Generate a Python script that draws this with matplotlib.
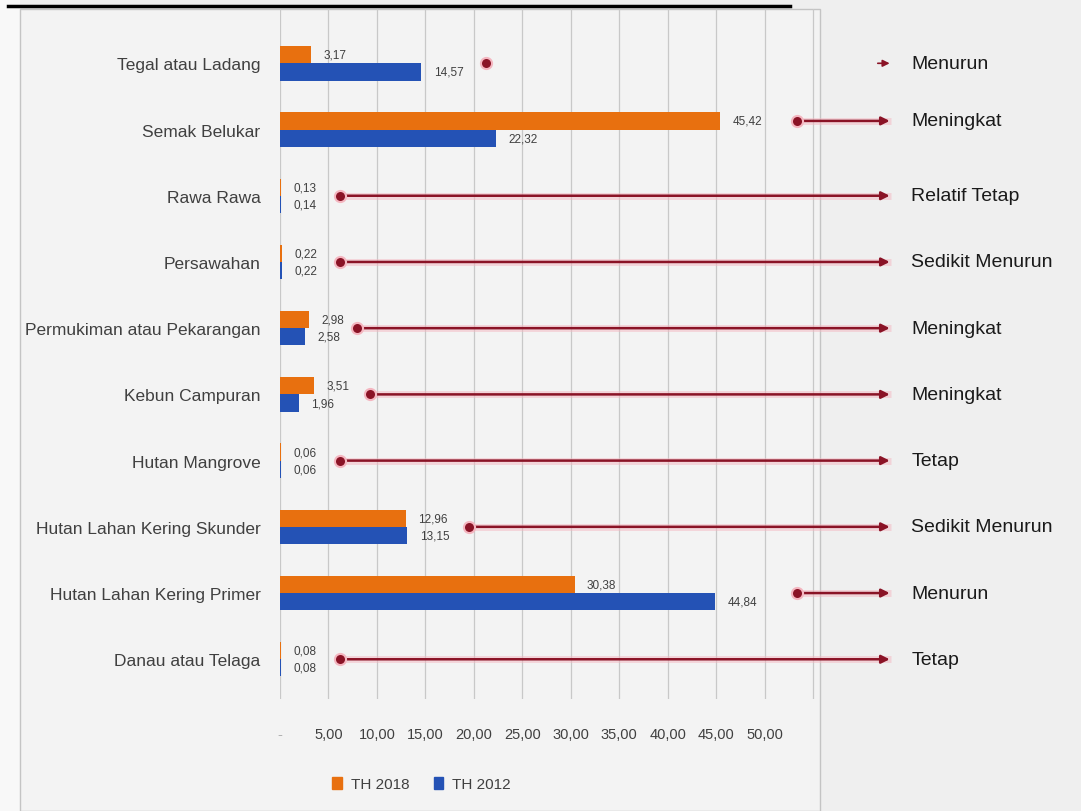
import matplotlib.pyplot as plt
import numpy as np
from matplotlib.patches import Patch, Rectangle
from matplotlib.lines import Line2D

plt.rcParams['font.family'] = ['Liberation Sans', 'DejaVu Sans']

categories = ["Tegal atau Ladang", "Semak Belukar", "Rawa Rawa", "Persawahan",
              "Permukiman atau Pekarangan", "Kebun Campuran", "Hutan Mangrove",
              "Hutan Lahan Kering Skunder", "Hutan Lahan Kering Primer",
              "Danau atau Telaga"]
th2018 = [3.17, 45.42, 0.13, 0.22, 2.98, 3.51, 0.06, 12.96, 30.38, 0.08]
th2012 = [14.57, 22.32, 0.14, 0.22, 2.58, 1.96, 0.06, 13.15, 44.84, 0.08]
trend = ["Menurun", "Meningkat", "Relatif Tetap", "Sedikit Menurun", "Meningkat",
         "Meningkat", "Tetap", "Sedikit Menurun", "Menurun", "Tetap"]
# where the red dot of each trend arrow sits (x value on the chart)
dot_x = [21.3, 53.3, 6.2, 6.2, 7.9, 9.3, 6.2, 19.5, 53.3, 6.2]
xticks = [0, 5, 10, 15, 20, 25, 30, 35, 40, 45, 50]
xticklabels = ["-", "5,00", "10,00", "15,00", "20,00", "25,00", "30,00",
               "35,00", "40,00", "45,00", "50,00"]

orange = '#e8700f'
blue = '#2452b5'
dark_red = '#8a1326'
txt = '#404040'

fig = plt.figure(figsize=(10.81, 8.12), dpi=100, facecolor='#efefef')

# chart panel background
fig.patches.append(Rectangle((0, 0), 20/1081, 1, transform=fig.transFigure,
                             facecolor='#f8f8f8', edgecolor='none', zorder=-3))
fig.patches.append(Rectangle((20/1081, 0), 800/1081, 1 - 10/812, transform=fig.transFigure,
                             facecolor='#f3f3f3', edgecolor='#c4c4c4', lw=1, zorder=-2))
fig.lines.append(Line2D([8/1081, 790/1081], [1 - 7/812, 1 - 7/812], transform=fig.transFigure,
                        color='black', lw=2.5))

ax = fig.add_axes([280/1081, 1 - 700/812, 540/1081, 690/812])
ax.set_facecolor('none')

y = np.arange(len(categories))
h = 0.26
b1 = ax.barh(y - h/2, th2018, height=h, color=orange, label='TH 2018', zorder=2)
b2 = ax.barh(y + h/2, th2012, height=h, color=blue, label='TH 2012', zorder=2)

fmt = lambda v: f"{v:.2f}".replace('.', ',')
ax.bar_label(b1, labels=[fmt(v) for v in th2018], padding=9, fontsize=8.5, color=txt)
ax.bar_label(b2, labels=[fmt(v) for v in th2012], padding=9, fontsize=8.5, color=txt)

ax.set_xlim(0, 55.7)
ax.set_ylim(len(categories) - 0.4, -0.82)
ax.set_yticks(y)
ax.set_yticklabels(categories, fontsize=12.5, color=txt)
ax.set_xticks(xticks)
ax.set_xticklabels(xticklabels, fontsize=10.5, color=txt)
ax.tick_params(axis='x', which='both', length=0, pad=20)
ax.tick_params(axis='y', length=0, pad=14)
ax.get_xticklabels()[0].set_color('#b0b0b0')
ax.grid(axis='x', color='#c8c8c8', lw=0.9, zorder=0)
ax.axvline(55, color='#c8c8c8', lw=0.9, zorder=0)
ax.set_axisbelow(True)
for s in ax.spines.values():
    s.set_visible(False)

# trend arrows and labels on the right
for i in range(len(categories)):
    yy = i - h/2 if i == 1 else i
    if i != 0:
        ax.plot([dot_x[i], 63], [yy, yy], color='#f4b6c0', lw=5, alpha=0.5,
                clip_on=False, zorder=3, solid_capstyle='butt')
        ax.annotate('', xy=(0.823, yy), xycoords=('figure fraction', 'data'),
                    xytext=(dot_x[i], yy), textcoords='data', annotation_clip=False,
                    arrowprops=dict(arrowstyle='-|>', color=dark_red, lw=1.8,
                                    shrinkA=0, shrinkB=0, mutation_scale=12), zorder=4)
    else:
        ax.annotate('', xy=(0.823, yy), xycoords=('figure fraction', 'data'),
                    xytext=(0.812, yy), textcoords=('figure fraction', 'data'),
                    annotation_clip=False,
                    arrowprops=dict(arrowstyle='-|>', color=dark_red, lw=1.2,
                                    shrinkA=0, shrinkB=0, mutation_scale=10), zorder=4)
    ax.plot(dot_x[i], yy, 'o', color=dark_red, ms=8, mec='#f4b6c0', mew=1.5,
            clip_on=False, zorder=5)
    ax.annotate(trend[i], xy=(0.843, yy), xycoords=('figure fraction', 'data'),
                fontsize=14, color='#1a1a1a', va='center', ha='left',
                annotation_clip=False)

handles = [Patch(color=orange, label='TH 2018'), Patch(color=blue, label='TH 2012')]
fig.legend(handles=handles, loc='center', bbox_to_anchor=(0.39, 1 - 785/812), ncol=2,
           frameon=False, fontsize=11, handlelength=0.6, handleheight=0.9,
           handletextpad=0.6, columnspacing=1.6, labelcolor=txt)

fig.savefig("out.png", dpi=100, facecolor=fig.get_facecolor())
